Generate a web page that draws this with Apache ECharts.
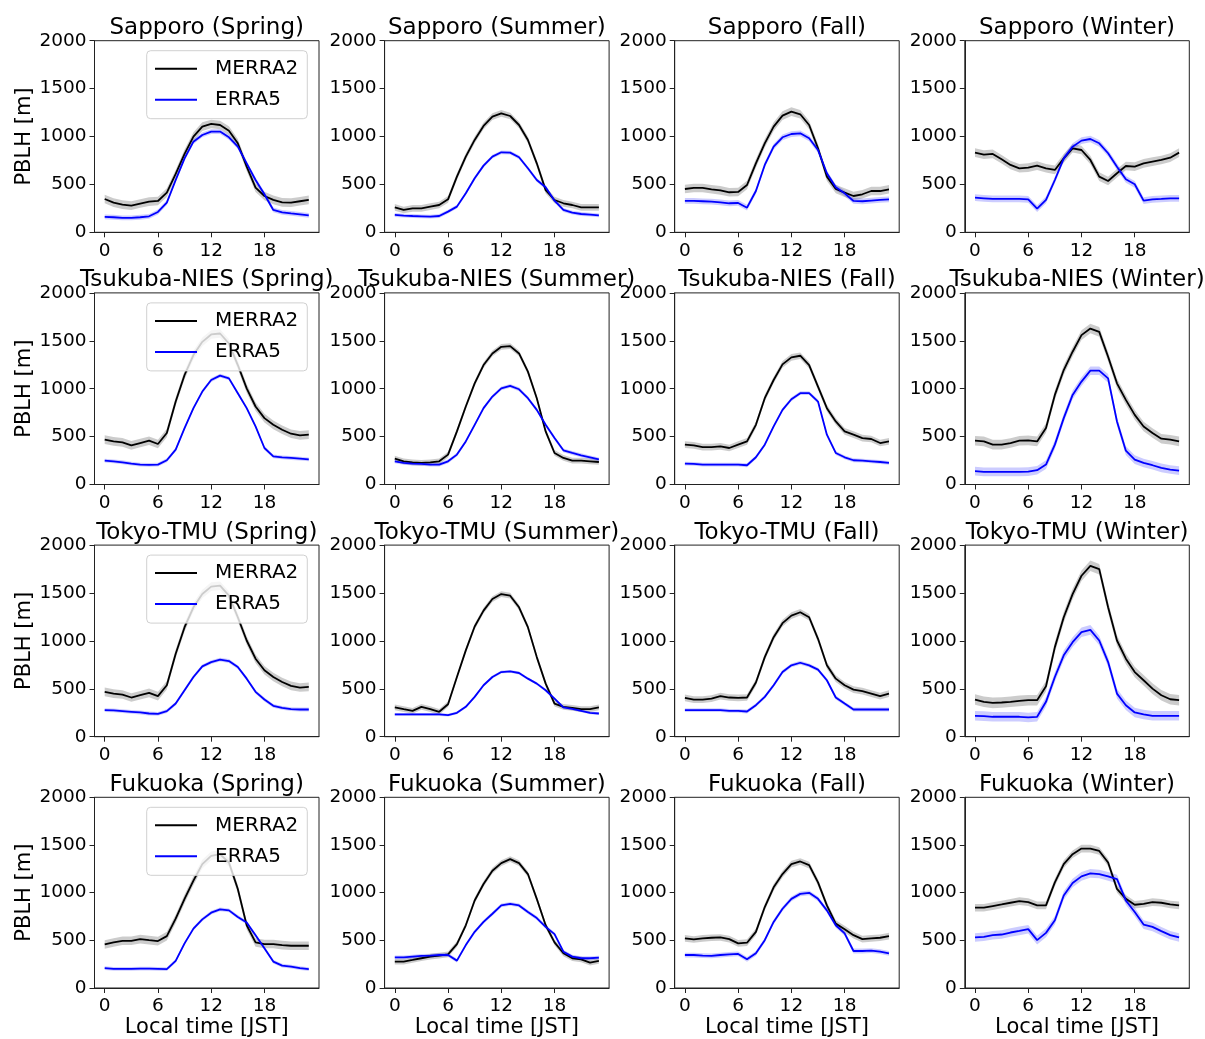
<!DOCTYPE html>
<html>
<head>
<meta charset="utf-8">
<script src="https://cdn.jsdelivr.net/npm/echarts@6/dist/echarts.min.js"></script>
<style>
html,body{margin:0;padding:0;background:#fff;}
#chart{width:1205px;height:1039px;}
</style>
</head>
<body>
<div id="chart"></div>
<script>
// ---------- DATA ----------
const hours = [0,1,2,3,4,5,6,7,8,9,10,11,12,13,14,15,16,17,18,19,20,21,22,23];
const stations = ['Sapporo', 'Tsukuba-NIES', 'Tokyo-TMU', 'Fukuoka'];
const seasons = ['Spring', 'Summer', 'Fall', 'Winter'];
const xTicks = [0, 6, 12, 18];
const seriesNames = ['MERRA2', 'ERRA5'];

// MERRA2 PBLH [m], per station: [Spring, Summer, Fall, Winter]
const merra2Sapporo = [
  [348,310,289,278,300,320,327,414,609,818,999,1103,1131,1120,1061,929,685,466,379,338,313,310,324,338],
  [261,233,250,250,268,285,344,581,790,964,1110,1207,1242,1214,1120,964,720,440,337,303,285,261,261,261],
  [452,463,463,449,438,418,421,494,720,929,1103,1218,1260,1232,1120,877,581,452,414,379,397,431,431,449],
  [832,811,818,762,703,668,675,696,668,651,772,877,859,755,581,536,616,692,685,720,738,755,779,832]
];
const merra2Tsukuba = [
  [468,450,440,409,433,457,423,537,866,1143,1351,1489,1566,1576,1472,1247,1004,814,693,623,571,530,513,520],
  [270,242,232,225,232,242,312,554,814,1056,1247,1368,1437,1444,1368,1178,901,554,329,277,249,249,242,235],
  [416,409,391,391,398,381,416,450,623,901,1091,1254,1327,1344,1247,1022,797,658,554,520,485,475,433,450],
  [457,450,416,416,433,457,461,450,589,935,1195,1386,1559,1628,1593,1334,1056,883,727,606,537,478,468,450]
];
const merra2Tokyo = [
  [468,450,440,409,433,457,423,537,866,1143,1351,1489,1566,1576,1472,1247,1004,814,693,623,571,530,513,520],
  [305,287,270,312,287,260,339,623,901,1150,1316,1437,1489,1472,1351,1143,831,554,346,312,301,287,287,305],
  [405,388,388,398,423,409,405,409,565,831,1039,1185,1264,1299,1247,1022,745,606,537,492,475,450,423,450],
  [388,364,353,357,364,374,381,381,527,935,1247,1489,1680,1784,1749,1351,1004,814,675,589,502,433,391,381]
];
const merra2Fukuoka = [
  [457,478,495,495,513,502,492,544,727,935,1126,1299,1386,1403,1316,1039,658,478,461,461,450,443,443,443],
  [277,277,294,312,329,339,353,461,658,918,1091,1230,1309,1351,1309,1195,935,658,478,364,312,301,267,284],
  [520,509,520,527,530,513,468,475,589,849,1056,1195,1299,1327,1289,1108,866,675,617,554,513,520,527,544],
  [842,842,859,876,894,911,901,866,866,1108,1299,1403,1462,1462,1437,1316,1039,935,873,883,901,894,876,866]
];

// ERA5 ("ERRA5") PBLH [m], per station: [Spring, Summer, Fall, Winter]
const era5Sapporo = [
  [160,157,150,150,157,167,212,310,546,772,946,1016,1051,1051,992,894,720,546,397,233,209,198,188,177],
  [181,174,170,167,164,170,216,268,407,564,696,790,835,832,783,668,546,470,330,233,205,191,184,177],
  [327,327,324,320,313,303,306,257,431,703,894,992,1026,1033,981,859,616,470,407,327,324,331,338,344],
  [362,355,348,348,348,348,344,247,338,546,772,894,957,974,929,825,685,553,501,331,344,348,355,355]
];
const era5Tsukuba = [
  [249,242,232,218,208,204,208,253,364,589,797,970,1091,1136,1108,953,797,606,381,294,284,277,270,263],
  [242,225,218,215,208,208,242,312,450,623,797,918,1004,1029,994,901,779,623,485,357,329,305,284,263],
  [218,215,208,208,208,208,208,201,284,416,606,779,890,953,953,866,520,329,284,253,249,242,235,225],
  [139,132,132,132,132,132,135,149,208,416,693,935,1074,1188,1188,1108,658,353,260,225,201,173,156,145]
];
const era5Tokyo = [
  [277,274,267,260,253,242,239,267,346,485,623,734,779,804,790,727,606,468,388,322,301,287,284,284],
  [232,232,232,232,232,232,225,249,312,416,537,623,675,682,665,606,554,485,398,305,290,270,249,242],
  [277,277,277,277,277,270,270,263,329,416,537,675,745,772,745,700,589,409,346,284,284,284,284,284],
  [218,215,208,208,208,208,201,208,364,623,849,987,1091,1115,1004,779,450,329,253,232,218,218,218,218]
];
const era5Fukuoka = [
  [208,201,201,201,204,204,201,197,284,468,623,720,790,824,814,745,686,554,416,277,235,225,208,197],
  [322,322,329,336,339,346,346,287,450,589,693,779,866,883,866,797,734,641,565,381,329,312,312,319],
  [346,346,339,336,346,353,357,301,364,502,693,831,935,987,998,935,814,658,572,388,388,391,381,364],
  [530,537,554,561,582,599,617,502,578,710,970,1101,1171,1202,1195,1171,1143,918,797,665,641,596,554,530]
];

// Shaded band half-widths [m]: per station [Spring, Summer, Fall, Winter]
const bandMerra2 = [[45,35,45,45],[45,30,35,50],[45,30,35,55],[45,30,35,40]];
const bandEra5   = [[25,20,30,35],[20,20,20,45],[20,15,20,50],[20,20,25,45]];

const merra2All = [merra2Sapporo, merra2Tsukuba, merra2Tokyo, merra2Fukuoka];
const era5All = [era5Sapporo, era5Tsukuba, era5Tokyo, era5Fukuoka];

// ---------- LAYOUT ----------
const FONT = 'DejaVu Sans';
const GL = 94.5, GW = 224.5, CX = 290.1;
const GT = 40.7, GH = 191.6, RY = 252.2;

const grids = [], xAxes = [], yAxes = [], titles = [], legends = [], series = [];

function bandSeries(idx, vals, bw, fill) {
  return {
    type: 'custom',
    xAxisIndex: idx, yAxisIndex: idx,
    silent: true,
    z: 1,
    data: [[0, 0]],
    renderItem: function (params, api) {
      const pts = [];
      for (let k = 0; k < hours.length; k++) pts.push(api.coord([hours[k], vals[k] + bw]));
      for (let k = hours.length - 1; k >= 0; k--) pts.push(api.coord([hours[k], vals[k] - bw]));
      return { type: 'polygon', shape: { points: pts }, style: { fill: fill } };
    }
  };
}

for (let r = 0; r < 4; r++) {
  for (let c = 0; c < 4; c++) {
    const idx = r * 4 + c;
    const left = GL + c * CX, top = GT + r * RY;
    grids.push({ left: left, top: top, width: GW, height: GH, show: true,
      borderColor: '#222', borderWidth: 1, backgroundColor: 'transparent', containLabel: false });
    xAxes.push({
      type: 'value', gridIndex: idx, min: -1.15, max: 24.15,
      axisLine: { show: true, onZero: false, lineStyle: { color: '#222', width: 1 } },
      axisTick: { show: true, length: 5, customValues: xTicks, lineStyle: { color: '#222' } },
      axisLabel: { show: true, customValues: xTicks, fontSize: 18.5, color: '#000', fontFamily: FONT, margin: 9 },
      splitLine: { show: false },
      name: r === 3 ? 'Local time [JST]' : '',
      nameLocation: 'middle', nameGap: 29,
      nameTextStyle: { fontSize: 21, color: '#000', fontFamily: FONT }
    });
    yAxes.push({
      type: 'value', gridIndex: idx, min: 0, max: 2000, interval: 500,
      axisLine: { show: true, onZero: false, lineStyle: { color: '#222', width: 1 } },
      axisTick: { show: true, length: 5, lineStyle: { color: '#222' } },
      axisLabel: { fontSize: 18.5, color: '#000', fontFamily: FONT, margin: 8,
        formatter: function (v) { return String(v); } },
      splitLine: { show: false },
      name: c === 0 ? 'PBLH [m]' : '',
      nameLocation: 'middle', nameGap: 56,
      nameTextStyle: { fontSize: 21, color: '#000', fontFamily: FONT }
    });
    titles.push({
      text: stations[r] + ' (' + seasons[c] + ')',
      left: left + GW / 2, top: top - 24, textAlign: 'center', padding: 0,
      textStyle: { fontSize: 23, fontWeight: 'normal', color: '#000', fontFamily: FONT }
    });
    const mv = merra2All[r][c], ev = era5All[r][c];
    series.push(bandSeries(idx, mv, bandMerra2[r][c], 'rgba(0,0,0,0.2)'));
    series.push(bandSeries(idx, ev, bandEra5[r][c], 'rgba(0,0,255,0.2)'));
    series.push({
      type: 'line', name: seriesNames[0], xAxisIndex: idx, yAxisIndex: idx,
      data: hours.map((h, k) => [h, mv[k]]), symbol: 'none', z: 3,
      lineStyle: { color: '#000', width: 1.8 }, itemStyle: { color: '#000' }
    });
    series.push({
      type: 'line', name: seriesNames[1], xAxisIndex: idx, yAxisIndex: idx,
      data: hours.map((h, k) => [h, ev[k]]), symbol: 'none', z: 3,
      lineStyle: { color: '#0000ff', width: 1.8 }, itemStyle: { color: '#0000ff' }
    });
  }
  legends.push({
    orient: 'vertical', left: 146.7, top: 50.7 + r * RY,
    data: seriesNames.map(n => ({ name: n })),
    icon: 'rect', itemWidth: 42, itemHeight: 2, itemGap: 11,
    padding: [8, 9, 9, 8.3],
    backgroundColor: 'rgba(255,255,255,0.8)', borderColor: '#d0d0d0', borderWidth: 1, borderRadius: 4,
    selectedMode: false, z: 10,
    textStyle: { fontSize: 20, color: '#000', fontFamily: FONT, padding: [0, 0, 0, 13] }
  });
}

const chart = echarts.init(document.getElementById('chart'), null, { renderer: 'canvas' });
chart.setOption({
  animation: false,
  backgroundColor: '#fff',
  title: titles, legend: legends, grid: grids, xAxis: xAxes, yAxis: yAxes, series: series
});
</script>
</body>
</html>
